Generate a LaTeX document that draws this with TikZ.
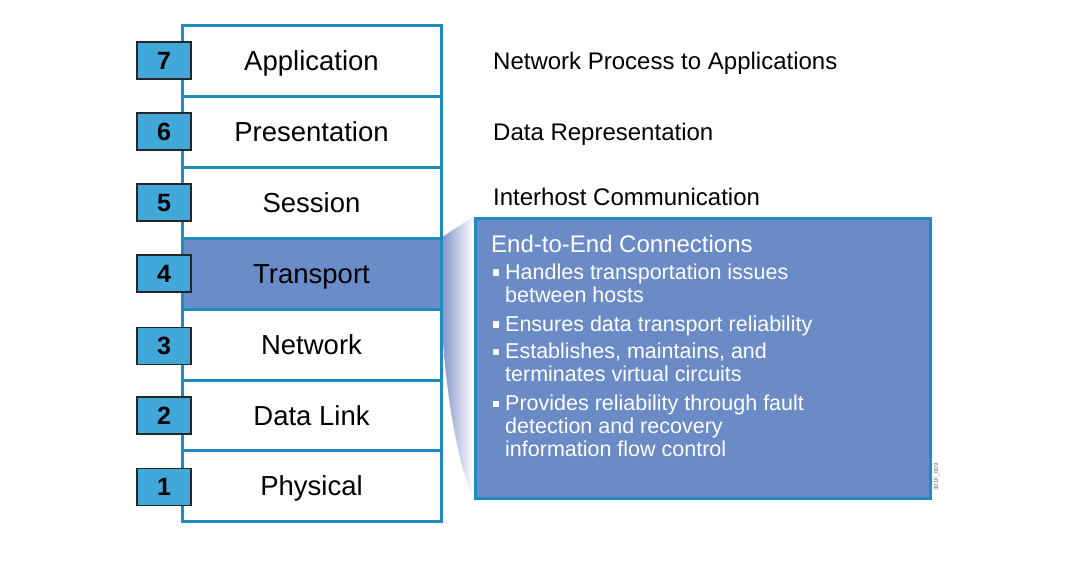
\documentclass[tikz,border=0pt]{standalone}
\usepackage{fontspec}
\setmainfont{Liberation Sans}
\definecolor{stackline}{HTML}{1E8AC0}
\definecolor{numfill}{HTML}{41A8D9}
\definecolor{transfill}{HTML}{6A8CC8}
\definecolor{boxfill}{HTML}{6A8BC6}
\definecolor{fanL}{HTML}{7F91C6}
\tikzset{
  layer/.style={draw=stackline, line width=3pt, fill=white, minimum width=259pt, minimum height=71pt,
    inner sep=0pt, font=\fontsize{27.5}{33}\selectfont, text height=19.7pt, text depth=0pt},
  numbox/.style={draw=black!85, line width=1.6pt, fill=numfill, minimum width=54pt, minimum height=37pt,
    inner sep=0pt, font=\fontsize{25}{30}\selectfont\bfseries, text height=17.9pt, text depth=0pt},
  desc/.style={anchor=west, inner sep=0pt, font=\fontsize{24}{29}\selectfont, text height=17.2pt, text depth=0pt},
  bigbox/.style={draw=stackline, line width=3pt, fill=boxfill, minimum width=455pt, minimum height=280pt, inner sep=0pt},
  boxtitle/.style={anchor=base west, inner sep=0pt, text=white, font=\fontsize{24}{29}\selectfont},
  itemline/.style={anchor=base west, inner sep=0pt, text=white, font=\fontsize{21.5}{26}\selectfont},
  bullet/.style={fill=white, minimum width=6.5pt, minimum height=6.5pt, inner sep=0pt},
  figid/.style={inner sep=0pt, text=black!60, font=\fontsize{6}{7}\selectfont, rotate=90}
}
\begin{document}
\begin{tikzpicture}[x=1pt,y=-1pt]
\useasboundingbox (0,0) rectangle (1082,563);
\fill[white] (0,0) rectangle (1082,563);

% big description box (placed first for fan reference)
\node[bigbox] (B) at (702.5,358) {};
% fan shading from Transport row to box
\coordinate (F1) at (441,238);
\coordinate (F2) at (441,309);
\shade[left color=fanL, right color=white] (F1) -- (B.north west) -- (B.south west)
  .. controls (460,470) and (445,400) .. (F2) -- cycle;
\node[bigbox] (B) at (702.5,358) {};

% stack of layers
\node[layer] (L7) at (311.5,60.5) {Application};
\node[layer] (L6) at (311.5,131.5) {Presentation};
\node[layer] (L5) at (311.5,202.5) {Session};
\node[layer, fill=transfill] (L4) at (311.5,273.5) {Transport};
\node[layer] (L3) at (311.5,344.5) {Network};
\node[layer] (L2) at (311.5,415.5) {Data Link};
\node[layer] (L1) at (311.5,486) {Physical};

% number boxes
\node[numbox] (N7) at (164,60.5) {7};
\node[numbox] (N6) at (164,131.5) {6};
\node[numbox] (N5) at (164,202.5) {5};
\node[numbox] (N4) at (164,273.5) {4};
\node[numbox] (N3) at (164,346) {3};
\node[numbox] (N2) at (164,415.5) {2};
\node[numbox] (N1) at (164,487) {1};

% descriptions
\node[desc] (D7) at (493,61) {Network Process to Applications};
\node[desc] (D6) at (493,132) {Data Representation};
\node[desc] (D5) at (493,197) {Interhost Communication};

% box content
\node[boxtitle] (T) at (491,252) {End-to-End Connections};
\node[itemline] (I1a) at (505,279) {Handles transportation issues};
\node[itemline] (I1b) at (505,302) {between hosts};
\node[itemline] (I2a) at (505,331) {Ensures data transport reliability};
\node[itemline] (I3a) at (505,358.5) {Establishes, maintains, and};
\node[itemline] (I3b) at (505,381.5) {terminates virtual circuits};
\node[itemline] (I4a) at (505,410.5) {Provides reliability through fault};
\node[itemline] (I4b) at (505,433.5) {detection and recovery};
\node[itemline] (I4c) at (505,456.5) {information flow control};
\node[bullet] (b1) at (496,272.5) {};
\node[bullet] (b2) at (496,324.5) {};
\node[bullet] (b3) at (496,352) {};
\node[bullet] (b4) at (496,404) {};

% figure id
\node[figid] (FID) at (936.5,477) {301F\_009};
\end{tikzpicture}
\end{document}
